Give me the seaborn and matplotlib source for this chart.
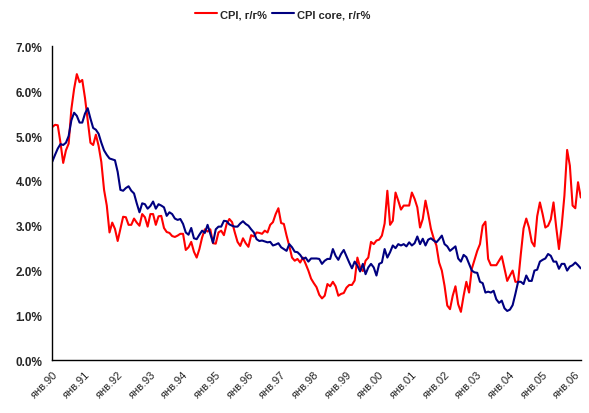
import matplotlib
matplotlib.use("Agg")
import matplotlib.pyplot as plt
import seaborn as sns
import pandas as pd
import numpy as np

# --- data (monthly, Jan 1990 .. Mar 2006) ---
cpi = [
    5.20, 5.25, 5.24, 4.85, 4.40, 4.68, 4.83, 5.60, 6.05, 6.38,
    6.20, 6.25, 5.85, 5.35, 4.85, 4.80, 5.03, 4.78, 4.42, 3.80,
    3.45, 2.85, 3.07, 2.93, 2.66, 2.93, 3.20, 3.19, 3.02, 3.02,
    3.16, 3.07, 3.00, 3.26, 3.19, 2.98, 3.26, 3.26, 3.02, 3.21,
    3.22, 2.95, 2.86, 2.84, 2.77, 2.75, 2.78, 2.82, 2.82, 2.46,
    2.52, 2.64, 2.42, 2.29, 2.48, 2.74, 2.92, 2.87, 2.92, 2.61,
    2.60, 2.85, 2.89, 2.79, 3.04, 3.15, 3.08, 2.85, 2.64, 2.55,
    2.72, 2.61, 2.53, 2.79, 2.76, 2.85, 2.84, 2.82, 2.89, 2.85,
    3.02, 3.08, 3.26, 3.39, 3.06, 3.04, 2.78, 2.55, 2.29, 2.22,
    2.26, 2.18, 2.29, 2.15, 2.00, 1.82, 1.72, 1.63, 1.46, 1.38,
    1.44, 1.70, 1.65, 1.75, 1.65, 1.44, 1.48, 1.50, 1.62, 1.68,
    1.68, 1.78, 2.29, 2.07, 1.99, 2.22, 2.29, 2.64, 2.59, 2.67,
    2.69, 2.78, 3.05, 3.78, 3.02, 3.11, 3.74, 3.56, 3.36, 3.45,
    3.45, 3.45, 3.74, 3.60, 3.41, 2.96, 3.15, 3.56, 3.26, 2.93,
    2.72, 2.56, 2.18, 2.00, 1.66, 1.22, 1.14, 1.44, 1.65, 1.25,
    1.08, 1.44, 1.75, 1.51, 2.04, 2.24, 2.44, 2.59, 3.00, 3.09,
    2.26, 2.12, 2.12, 2.12, 2.22, 2.32, 2.04, 1.77, 1.89, 2.00,
    1.75, 1.75, 2.37, 2.94, 3.16, 2.96, 2.64, 2.54, 3.21, 3.52,
    3.26, 2.96, 3.00, 3.14, 3.52, 2.96, 2.48, 3.00, 3.67, 4.69,
    4.34, 3.45, 3.39, 3.97, 3.63,
]

cpi_core = [
    4.43, 4.58, 4.72, 4.82, 4.80, 4.85, 5.00, 5.35, 5.52, 5.45,
    5.30, 5.30, 5.50, 5.62, 5.39, 5.18, 5.14, 5.05, 4.85, 4.68,
    4.58, 4.50, 4.48, 4.46, 4.20, 3.80, 3.78, 3.84, 3.88, 3.78,
    3.72, 3.50, 3.30, 3.50, 3.48, 3.38, 3.44, 3.54, 3.38, 3.48,
    3.45, 3.41, 3.22, 3.30, 3.26, 3.16, 3.13, 3.15, 3.04, 2.85,
    2.80, 2.95, 2.72, 2.70, 2.80, 2.89, 2.84, 3.02, 2.82, 2.62,
    2.92, 2.98, 2.98, 3.11, 3.10, 3.03, 3.00, 2.98, 2.98, 3.05,
    3.10, 3.04, 3.00, 2.92, 2.85, 2.70, 2.66, 2.67, 2.65, 2.63,
    2.64, 2.56, 2.58, 2.61, 2.52, 2.48, 2.44, 2.59, 2.52, 2.42,
    2.41, 2.35, 2.26, 2.29, 2.20, 2.27, 2.27, 2.27, 2.26, 2.15,
    2.22, 2.26, 2.26, 2.48, 2.33, 2.24, 2.37, 2.46, 2.32, 2.18,
    2.05, 2.20, 2.11, 1.98, 2.15, 1.92, 2.07, 2.15, 2.07, 1.89,
    2.15, 2.18, 2.48, 2.29, 2.41, 2.56, 2.50, 2.59, 2.56, 2.59,
    2.54, 2.63, 2.56, 2.61, 2.76, 2.59, 2.71, 2.56, 2.69, 2.72,
    2.67, 2.63, 2.70, 2.78, 2.59, 2.54, 2.44, 2.49, 2.54, 2.27,
    2.20, 2.35, 2.30, 2.15, 2.00, 1.96, 1.95, 1.75, 1.72, 1.51,
    1.53, 1.51, 1.55, 1.36, 1.28, 1.33, 1.16, 1.10, 1.13, 1.23,
    1.48, 1.75, 1.75, 1.70, 1.89, 1.77, 1.77, 2.00, 2.02, 2.20,
    2.24, 2.27, 2.37, 2.33, 2.20, 2.20, 2.04, 2.15, 2.15, 2.00,
    2.09, 2.12, 2.18, 2.12, 2.05,
]

series_names = ["CPI, г/г%", "CPI core, г/г%"]
year_labels = ["янв.90", "янв.91", "янв.92", "янв.93", "янв.94", "янв.95",
               "янв.96", "янв.97", "янв.98", "янв.99", "янв.00", "янв.01",
               "янв.02", "янв.03", "янв.04", "янв.05", "янв.06"]
y_ticks = [0, 1, 2, 3, 4, 5, 6, 7]

month = np.arange(len(cpi))
df = pd.DataFrame({
    "month": np.concatenate([month, month]),
    "value": cpi + cpi_core,
    "series": [series_names[0]] * len(cpi) + [series_names[1]] * len(cpi_core),
})

sns.set_style("white")
plt.rcParams["font.family"] = ["Liberation Sans", "DejaVu Sans"]

fig = plt.figure(figsize=(5.89, 4.14), dpi=100)
ax = fig.add_axes([0.0888, 0.1273, 0.8972, 0.7584])

sns.lineplot(data=df, x="month", y="value", hue="series",
             palette={series_names[0]: "#FF0000", series_names[1]: "#000080"},
             linewidth=1.5, ax=ax, legend=True)

ax.set_xlim(0, len(cpi) - 1)
ax.set_ylim(0, 7)
ax.set_xlabel("")
ax.set_ylabel("")

ax.set_yticks(y_ticks)
ax.set_yticklabels([f"{v:.1f}%" for v in y_ticks], fontsize=8.5, fontweight="bold")
ax.set_xticks(np.arange(len(year_labels)) * 12)
ax.set_xticklabels(year_labels, rotation=45, ha="right", rotation_mode="anchor",
                   fontsize=8)

for side in ["top", "right"]:
    ax.spines[side].set_visible(False)
for side in ["left", "bottom"]:
    ax.spines[side].set_color("black")
    ax.spines[side].set_linewidth(1.0)

ax.tick_params(axis="y", direction="out", length=4, width=1, color="black", pad=3)
ax.tick_params(axis="x", direction="out", length=4, width=1, color="black", pad=2)
ax.grid(False)

handles, labels = ax.get_legend_handles_labels()
ax.legend(handles, labels, loc="center", bbox_to_anchor=(0.48, 0.963),
          bbox_transform=fig.transFigure, ncol=2, frameon=False,
          prop={"size": 8, "weight": "bold"}, handlelength=2.0,
          handletextpad=0.3, columnspacing=0.4)

fig.savefig("out.png", dpi=100)
